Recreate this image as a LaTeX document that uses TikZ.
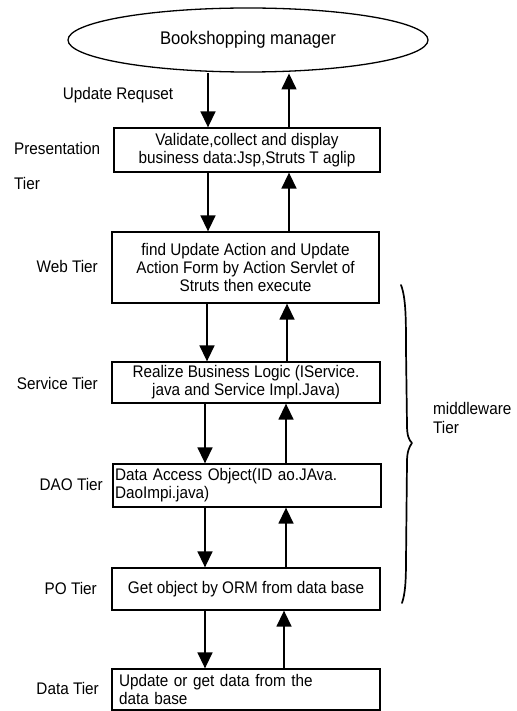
\documentclass[tikz,border=0pt]{standalone}
\usepackage{fontspec}
\setmainfont[FakeStretch=0.91]{Liberation Sans}
\usetikzlibrary{shapes.geometric,arrows.meta}
\begin{document}
\begin{tikzpicture}[x=1pt,y=-1pt,
  every node/.style={font=\fontsize{16.8}{18}\selectfont, inner sep=0pt},
  tierbox/.style={draw, line width=1.3pt, minimum width=268pt, align=center},
  tierlabel/.style={anchor=east},
  flow/.style={line width=1.5pt, -{Triangle[width=15pt,length=16pt]}}
]
\useasboundingbox (0,0) rectangle (516,711);

% client
\node[draw, ellipse, line width=1.3pt, minimum width=360pt, minimum height=64pt,
      font=\fontsize{18.3}{20}\selectfont] (ell) at (248,40) {Bookshopping manager};

% tier boxes
\node[tierbox, minimum height=44pt, minimum width=266pt] (pres) at (247,150)
  {Validate,collect and display\\business data:Jsp,Struts T aglip};
\node[tierbox, minimum height=71pt, minimum width=267pt] (web) at (245.5,267.5)
  {find Update Action and Update\\Action Form by Action Servlet of\\Struts then execute};
\node[tierbox, minimum height=41pt] (serv) at (246,382.5)
  {Realize Business Logic (IService.\\java and Service Impl.Java)};
\node[draw, line width=1.3pt, minimum width=268pt, minimum height=43pt,
      text width=264pt, align=left, inner xsep=2pt] (dao) at (247,485.5)
  {Data Access Object(ID ao.JAva.\\DaoImpi.java)};
\node[tierbox, minimum height=42pt] (po) at (246,589)
  {Get object by ORM from data base};
\node[draw, line width=1.3pt, minimum width=268pt, minimum height=41pt,
      text width=254pt, align=left, inner xsep=7pt] (data) at (246,689.5)
  {Update or get data from the\\data base};

% tier labels
\node (req) at (118,95) {Update Requset};
\node[anchor=west] (lpres) at (14,148) {Presentation};
\node[anchor=west] (lpres2) at (14,183) {Tier};
\node[tierlabel] (lweb) at (98,266) {Web Tier};
\node[tierlabel] (lserv) at (98,383) {Service Tier};
\node[tierlabel] (ldao) at (103,484) {DAO Tier};
\node[tierlabel] (lpo) at (97,588) {PO Tier};
\node[tierlabel] (ldata) at (99,688) {Data Tier};
\node[anchor=west, align=left, font=\fontsize{16.8}{19}\selectfont] (lmid) at (433,418) {middleware\\Tier};

% columns of the request / response arrows
\coordinate (d1) at (208,0); \coordinate (u1) at (289,0);
\coordinate (d2) at (208,0); \coordinate (u2) at (289,0);
\coordinate (d3) at (207,0); \coordinate (u3) at (287,0);
\coordinate (d4) at (205,0); \coordinate (u4) at (286,0);
\coordinate (d5) at (205,0); \coordinate (u5) at (286,0);
\coordinate (d6) at (205,0); \coordinate (u6) at (284,0);

\draw[flow] ([yshift=-0.8pt]ell.south -| d1) -- (pres.north -| d1);
\draw[flow] (pres.north -| u1) -- ([yshift=-0.8pt]ell.south -| u1);
\draw[flow] (pres.south -| d2) -- (web.north -| d2);
\draw[flow] (web.north -| u2) -- (pres.south -| u2);
\draw[flow] (web.south -| d3) -- (serv.north -| d3);
\draw[flow] (serv.north -| u3) -- (web.south -| u3);
\draw[flow] (serv.south -| d4) -- (dao.north -| d4);
\draw[flow] (dao.north -| u4) -- (serv.south -| u4);
\draw[flow] (dao.south -| d5) -- (po.north -| d5);
\draw[flow] (po.north -| u5) -- (dao.south -| u5);
\draw[flow] (po.south -| d6) -- (data.north -| d6);
\draw[flow] (data.north -| u6) -- (po.south -| u6);

% curly brace spanning the middleware tiers
\draw[line width=1.7pt, line cap=round, line join=round]
  (401,285) .. controls (406,298) and (406,320) .. (406,350)
  -- (407,425) .. controls (407,436) and (409,440) .. (412,443)
  .. controls (409,447) and (407,452) .. (407,462)
  -- (406,560) .. controls (406,583) and (405,594) .. (402,603);
\end{tikzpicture}
\end{document}
